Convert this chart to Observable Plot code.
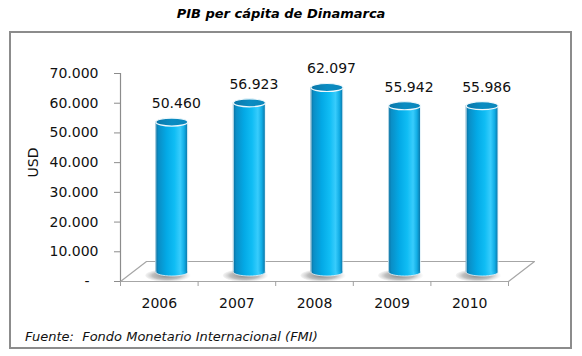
<!DOCTYPE html>
<html><head><meta charset="utf-8">
<script src="https://cdn.jsdelivr.net/npm/d3@7"></script>
<script src="https://cdn.jsdelivr.net/npm/@observablehq/plot@0.6"></script>
<style>
body{margin:0;background:#fff;}
#wrap{position:relative;width:582px;height:356px;font-family:"DejaVu Sans",Verdana,sans-serif;overflow:hidden;}
#title{position:absolute;left:0;top:5px;width:562px;text-align:center;font-weight:bold;font-style:italic;font-size:13px;line-height:18px;color:#000;}
#box{position:absolute;left:9px;top:31px;width:559px;height:314px;border:2px solid #8c8c8c;}
#chart{position:absolute;left:0;top:0;}
#caption{position:absolute;left:25px;top:328px;font-style:italic;font-size:13px;white-space:pre;color:#111;line-height:18px;}
</style></head><body>
<div id="wrap">
  <div id="title">PIB per cápita de Dinamarca</div>
  <div id="box"></div>
  <div id="chart"></div>
  <div id="caption">Fuente:  Fondo Monetario Internacional (FMI)</div>
</div>
<script>
const years = ["2006", "2007", "2008", "2009", "2010"];
const values = [50460, 56923, 62097, 55942, 55986];
const yTicks = [0, 10000, 20000, 30000, 40000, 50000, 60000, 70000];
const yMax = 70000;

const W = 582, H = 320, mL = 120, mR = 74, mT = 73, mB = 39;
const n = years.length;
const kx = (W - mL - mR) / n, ky = (H - mT - mB) / yMax;
const depthX = 26 / kx, depthY = 20 / ky;
const barDx = 12.5, barDy = -9.5, barR = 16;
const inset = (kx - 2 * barR) / 2;

const locale = d3.formatLocale({decimal: ",", thousands: ".", grouping: [3], currency: ["", ""]});
const fmt = locale.format(",.0f");
const fmtTick = v => v === 0 ? "-\u00a0\u00a0" : fmt(v);

const data = years.map((year, i) => ({year, i, value: values[i]}));
const floor = [[0, 0], [n, 0], [n + depthX, depthY], [depthX, depthY], [0, 0]].map(([x, y]) => ({x, y}));

function ellipseSymbol(k) {
  return {draw(ctx, size) {
    const rx = Math.sqrt(size / Math.PI), ry = rx * k, c = 0.5523;
    ctx.moveTo(rx, 0);
    ctx.bezierCurveTo(rx, ry * c, rx * c, ry, 0, ry);
    ctx.bezierCurveTo(-rx * c, ry, -rx, ry * c, -rx, 0);
    ctx.bezierCurveTo(-rx, -ry * c, -rx * c, -ry, 0, -ry);
    ctx.bezierCurveTo(rx * c, -ry, rx, -ry * c, rx, 0);
    ctx.closePath();
  }};
}

function defs() {
  const d = d3.create("svg:defs");
  const g = d.append("linearGradient").attr("id", "cyl").attr("x1", 0).attr("x2", 1).attr("y1", 0).attr("y2", 0);
  [[0, "#0b6a98"], [0.1, "#0a8ec6"], [0.35, "#03a9e6"], [0.6, "#10bdf4"], [0.78, "#38ccfc"], [0.9, "#12aee6"], [1, "#0a78ab"]]
    .forEach(([o, c]) => g.append("stop").attr("offset", o).attr("stop-color", c));
  const t = d.append("linearGradient").attr("id", "top").attr("x1", 0).attr("x2", 1).attr("y1", 0).attr("y2", 0);
  [[0, "#0a76a8"], [0.5, "#0a8cc2"], [1, "#0b86bb"]]
    .forEach(([o, c]) => t.append("stop").attr("offset", o).attr("stop-color", c));
  const s = d.append("radialGradient").attr("id", "shadow").attr("cx", 0.45).attr("cy", 0.5).attr("r", 0.5);
  [[0, "#6e6e6e", 0.85], [0.6, "#8a8a8a", 0.55], [1, "#bbbbbb", 0]]
    .forEach(([o, c, a]) => s.append("stop").attr("offset", o).attr("stop-color", c).attr("stop-opacity", a));
  return d.node();
}

const cx = d => d.i + 0.5;

const chart = Plot.plot({
  width: W, height: H,
  marginLeft: mL, marginRight: mR, marginTop: mT, marginBottom: mB,
  style: {fontFamily: "DejaVu Sans, Verdana, sans-serif", fontSize: "14px", background: "transparent", overflow: "visible"},
  x: {domain: [0, n]},
  y: {domain: [0, yMax]},
  marks: [
    defs,
    Plot.line(floor, {x: "x", y: "y", stroke: "#a6a6a6", strokeWidth: 1.2}),
    Plot.ruleX([0], {stroke: "#8c8c8c", strokeWidth: 1.2}),
    Plot.dot(data, {x: cx, y: 0, r: 24, symbol: ellipseSymbol(0.28), fill: "url(#shadow)", stroke: null, dx: 10, dy: -6}),
    Plot.dot(data, {x: cx, y: 0, r: barR, symbol: ellipseSymbol(0.25), fill: "url(#cyl)", stroke: "#e6f4fa", strokeWidth: 0.8, dx: barDx, dy: barDy}),
    Plot.rect(data, {x1: d => d.i, x2: d => d.i + 1, y1: 0, y2: "value", insetLeft: inset, insetRight: inset, fill: "url(#cyl)", dx: barDx, dy: barDy}),
    Plot.ruleX(data, {x: cx, y1: 0, y2: "value", dx: barDx - barR, dy: barDy, stroke: "#e6f4fa", strokeOpacity: 0.8}),
    Plot.ruleX(data, {x: cx, y1: 0, y2: "value", dx: barDx + barR, dy: barDy, stroke: "#e6f4fa", strokeOpacity: 0.8}),
    Plot.dot(data, {x: cx, y: "value", r: barR, symbol: ellipseSymbol(0.25), fill: "url(#top)", stroke: "#eef8fc", strokeWidth: 1.2, dx: barDx, dy: barDy}),
    Plot.text(data, {x: cx, y: "value", text: d => fmt(d.value), dx: 17, dy: -28, fill: "#111", fontSize: 14}),
    Plot.axisY({ticks: yTicks, tickFormat: fmtTick, tickSize: 6, tickPadding: 16, stroke: "#8c8c8c", fill: "#111", label: null}),
    Plot.axisX({ticks: d3.range(n).map(i => i + 0.5), tickFormat: v => years[Math.floor(v)], tickSize: 0, tickPadding: 17, fill: "#111", label: null}),
    Plot.axisX({ticks: d3.range(n + 1), tickFormat: () => "", tickSize: 5, stroke: "#a0a0a0", label: null}),
    Plot.text(["USD"], {frameAnchor: "left", dx: -87, rotate: -90, fill: "#111", fontSize: 14})
  ]
});
document.getElementById("chart").appendChild(chart);
</script>
</body></html>
